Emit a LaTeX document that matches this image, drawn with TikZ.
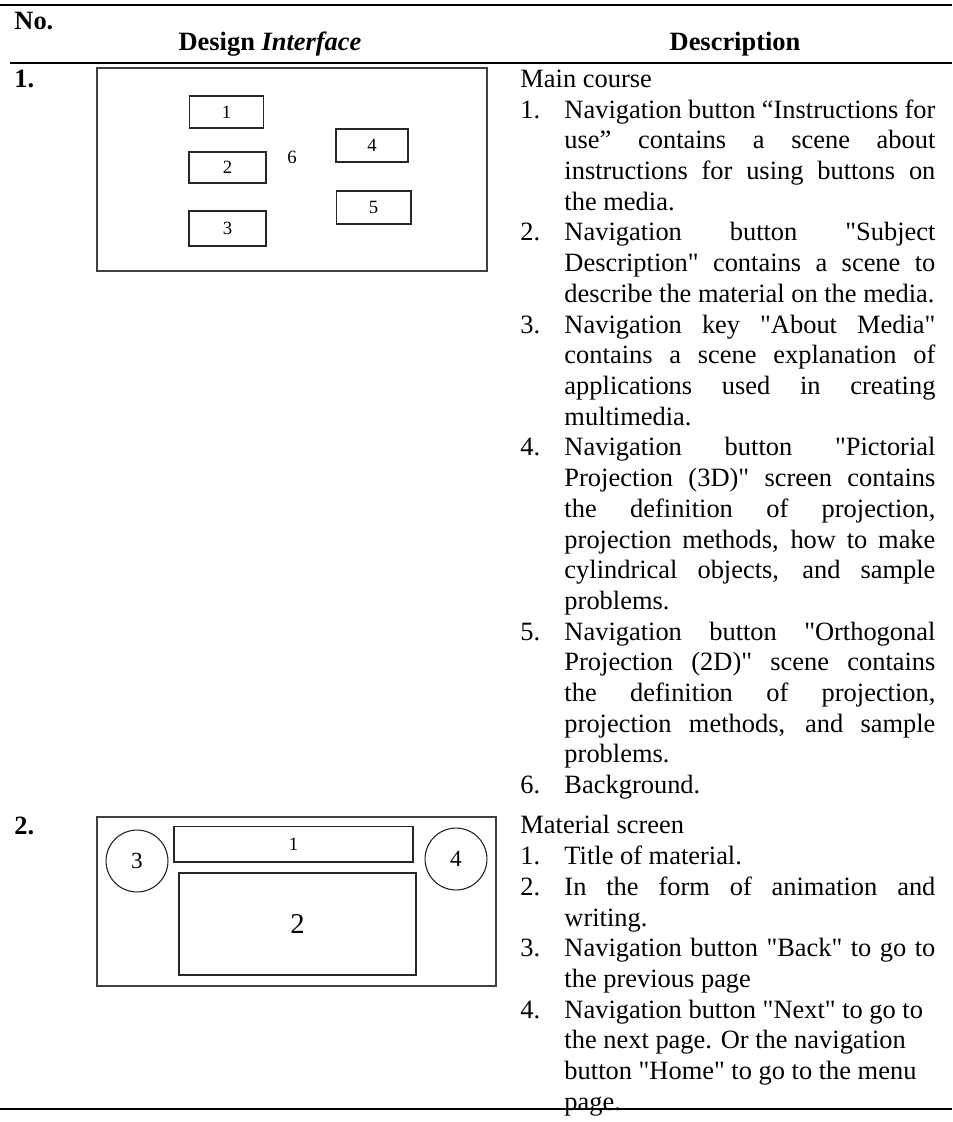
\documentclass[tikz,border=0pt]{standalone}
\usepackage{fontspec}
\setmainfont{Liberation Serif}
\usepackage{tikz}
\usetikzlibrary{positioning}
\newcommand{\itm}[1]{\par\hangindent=20pt\hangafter=1\noindent\makebox[20pt][l]{#1.}}
\newcommand{\q}[1]{\textquotedbl#1\textquotedbl}
\newcommand{\descfont}{\fontsize{12}{13.94}\selectfont\tolerance=10000\hyphenpenalty=10000}

\begin{document}
\begin{tikzpicture}[x=0.454pt, y=-0.454pt, font=\fontsize{12}{13.94}\selectfont,
  hd/.style={inner sep=0pt, font=\fontsize{12}{13.94}\selectfont\bfseries},
  scr/.style={draw=black!75, line width=0.7pt, inner sep=0pt},
  btn/.style={draw=black!85, line width=0.5pt, inner sep=0pt, font=\fontsize{8.5}{10}\selectfont},
  circ/.style={btn, circle, minimum size=28.1pt, font=\fontsize{10.5}{12}\selectfont},
  desc/.style={anchor=north west, inner sep=0pt, text width=188.4pt, align=justify, font=\descfont}]
\useasboundingbox (0,0) rectangle (952,1122);

% rules
\draw[line width=1.1pt] (0,5) -- (952,5);
\draw[line width=1pt] (10,63) -- (92,63);
\draw[line width=0.5pt] (92,63) -- (492,63);
\draw[line width=1pt] (492,63) -- (952,63);
\draw[line width=1.1pt] (0,1109) -- (952,1109);

% header
\node[hd, anchor=base west] (hno) at (14,29) {No.};
\node[hd, anchor=base] (hdes) at (270,50) {Design \textit{Interface}};
\node[hd, anchor=base] (hdsc) at (735,50) {Description};

% row 1: main course
\node[hd, anchor=base west] (no1) at (14,87) {1.};
\node[scr, minimum width=177.1pt, minimum height=92.2pt] (main) at (292,169.5) {};
\node[btn, minimum width=34pt, minimum height=14.5pt] (m1) at (226.5,112) {1};
\node[btn, minimum width=35pt, minimum height=14.1pt] (m2) at (227.5,167.5) {2};
\node[btn, minimum width=35pt, minimum height=15.9pt] (m3) at (227.5,228.5) {3};
\node[btn, minimum width=32.7pt, minimum height=15pt] (m4) at (372,145.5) {4};
\node[btn, minimum width=34pt, minimum height=15pt] (m5) at (373.5,207.5) {5};
\node[font=\fontsize{8.5}{10}\selectfont] (m6) at (292,157) {6};

\node[desc] (dmain) at (520,65.5) {\strut Main course
\itm{1}Navigation button “Instructions for\linebreak use” contains a scene about\linebreak instructions for using buttons on\linebreak the media.
\itm{2}Navigation button \q{Subject\linebreak Description} contains a scene to\linebreak describe the material on the media.
\itm{3}Navigation key \q{About Media}\linebreak contains a scene explanation of\linebreak applications used in creating\linebreak multimedia.
\itm{4}Navigation button \q{Pictorial\linebreak Projection (3D)} screen contains\linebreak the definition of projection,\linebreak projection methods, how to make\linebreak cylindrical objects, and sample\linebreak problems.
\itm{5}Navigation button \q{Orthogonal\linebreak Projection (2D)} scene contains\linebreak the definition of projection,\linebreak projection methods, and sample\linebreak problems.
\itm{6}Background.\par};

% row 2: material screen
\node[hd, anchor=base west] (no2) at (14,834) {2.};
\node[scr, minimum width=181.1pt, minimum height=76.7pt] (mat) at (296.5,901.5) {};
\node[btn, minimum width=108.5pt, minimum height=16.3pt] (t1) at (293.5,844) {1};
\node[btn, minimum width=107.6pt, minimum height=46.3pt, font=\fontsize{13}{15}\selectfont] (t2) at (297.5,924) {2};
\node[circ] (t3) at (137,861) {3};
\node[circ] (t4) at (456,859) {4};

\node[desc] (dmat) at (520,812) {\strut Material screen
\itm{1}Title of material.
\itm{2}In the form of animation and\linebreak writing.
\itm{3}Navigation button \q{Back} to go to\linebreak the previous page
\itm{4}Navigation button \q{Next} to go to\hfil\break the next page. Or the navigation\hfil\break button \q{Home} to go to the menu\hfil\break page.\par};
\end{tikzpicture}
\end{document}
